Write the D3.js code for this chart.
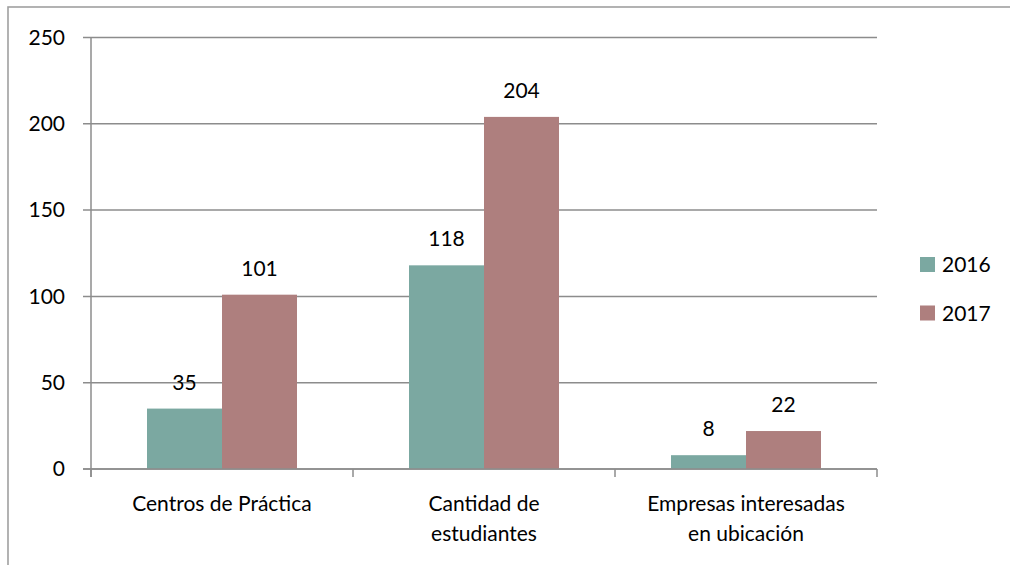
<!DOCTYPE html>
<html>
<head>
<meta charset="utf-8">
<script src="https://cdn.jsdelivr.net/npm/d3@7"></script>
<style>
  html, body { margin: 0; padding: 0; background: #fff; }
  svg text { font-family: Lato, "Open Sans", sans-serif; fill: #000; }
</style>
</head>
<body>
<script>
// chart data
const categories = [['Centros de Práctica'], ['Cantidad de', 'estudiantes'], ['Empresas interesadas', 'en ubicación']];
const seriesNames = ['2016', '2017'];
const values2016 = [35, 118, 8];
const values2017 = [101, 204, 22];
const yTicks = [0, 50, 100, 150, 200, 250];
const colors = ['#7ba8a1', '#ae7f7e'];

const width = 1010;
const height = 565;
const margin = { left: 91, right: 133, top: 37.5, bottom: 96 };

const svg = d3.select('body').append('svg')
    .attr('width', width)
    .attr('height', height);

// outer frame (runs off the right and bottom edges)
svg.append('rect')
    .attr('x', 8).attr('y', 7)
    .attr('width', 1030).attr('height', 620)
    .attr('fill', 'none')
    .attr('stroke', '#a0a0a0')
    .attr('stroke-width', 1.6);

const keys = categories.map((c, i) => i);
const x = d3.scaleBand()
    .domain(keys)
    .range([margin.left, width - margin.right])
    .paddingInner(0)
    .paddingOuter(0);

const y = d3.scaleLinear()
    .domain([0, 250])
    .range([height - margin.bottom, margin.top]);

const series = seriesNames.map((name, s) => ({
    name,
    color: colors[s],
    values: s === 0 ? values2016 : values2017
}));

const barW = x.bandwidth() * 75 / 262;
const xs = d3.scaleBand()
    .domain(seriesNames)
    .range([x.bandwidth() / 2 - barW, x.bandwidth() / 2 + barW]);

// gridlines + y ticks
svg.append('g')
    .selectAll('line')
    .data(yTicks)
    .join('line')
    .attr('x1', margin.left - 8)
    .attr('x2', width - margin.right)
    .attr('y1', d => y(d))
    .attr('y2', d => y(d))
    .attr('stroke', '#8c8c8c')
    .attr('stroke-width', 1.5);

svg.append('g')
    .selectAll('text')
    .data(yTicks)
    .join('text')
    .attr('x', 65)
    .attr('y', d => y(d))
    .attr('dy', '0.35em')
    .attr('text-anchor', 'end')
    .style('font-size', '21px')
    .text(d => d);

// bars
const groups = svg.append('g')
    .selectAll('g')
    .data(series)
    .join('g')
    .attr('fill', d => d.color);

groups.selectAll('rect')
    .data(d => d.values.map((v, i) => ({ v, i, name: d.name })))
    .join('rect')
    .attr('x', d => x(d.i) + xs(d.name))
    .attr('width', xs.bandwidth())
    .attr('y', d => y(d.v))
    .attr('height', d => y(0) - y(d.v));

// value labels
groups.selectAll('text')
    .data(d => d.values.map((v, i) => ({ v, i, name: d.name })))
    .join('text')
    .attr('x', d => x(d.i) + xs(d.name) + xs.bandwidth() / 2)
    .attr('y', d => y(d.v) - 19)
    .attr('text-anchor', 'middle')
    .style('font-size', '21px')
    .style('fill', '#000')
    .text(d => d.v);

// axes lines
const axisColor = '#8c8c8c';
svg.append('line')
    .attr('x1', margin.left).attr('x2', margin.left)
    .attr('y1', y(250)).attr('y2', y(0) + 8)
    .attr('stroke', axisColor).attr('stroke-width', 1.5);

svg.append('line')
    .attr('x1', margin.left - 8).attr('x2', width - margin.right)
    .attr('y1', y(0)).attr('y2', y(0))
    .attr('stroke', axisColor).attr('stroke-width', 1.5);

const boundaries = keys.map(k => x(k)).concat([x(keys[keys.length - 1]) + x.bandwidth()]);
svg.append('g')
    .selectAll('line')
    .data(boundaries)
    .join('line')
    .attr('x1', d => d).attr('x2', d => d)
    .attr('y1', y(0)).attr('y2', y(0) + 8)
    .attr('stroke', axisColor).attr('stroke-width', 1.5);

// category labels
svg.append('g')
    .selectAll('text')
    .data(categories)
    .join('text')
    .attr('x', (d, i) => x(i) + x.bandwidth() / 2)
    .attr('y', 511)
    .attr('text-anchor', 'middle')
    .style('font-size', '21px')
    .selectAll('tspan')
    .data(d => d)
    .join('tspan')
    .attr('x', function () { return d3.select(this.parentNode).attr('x'); })
    .attr('dy', (d, i) => i === 0 ? 0 : 30)
    .text(d => d);

// legend
const legend = svg.append('g')
    .selectAll('g')
    .data(series)
    .join('g')
    .attr('transform', (d, i) => `translate(920, ${257 + i * 48.5})`);

legend.append('rect')
    .attr('width', 15).attr('height', 15)
    .attr('fill', d => d.color);

legend.append('text')
    .attr('x', 22)
    .attr('y', 15)
    .style('font-size', '21px')
    .text(d => d.name);
</script>
</body>
</html>
